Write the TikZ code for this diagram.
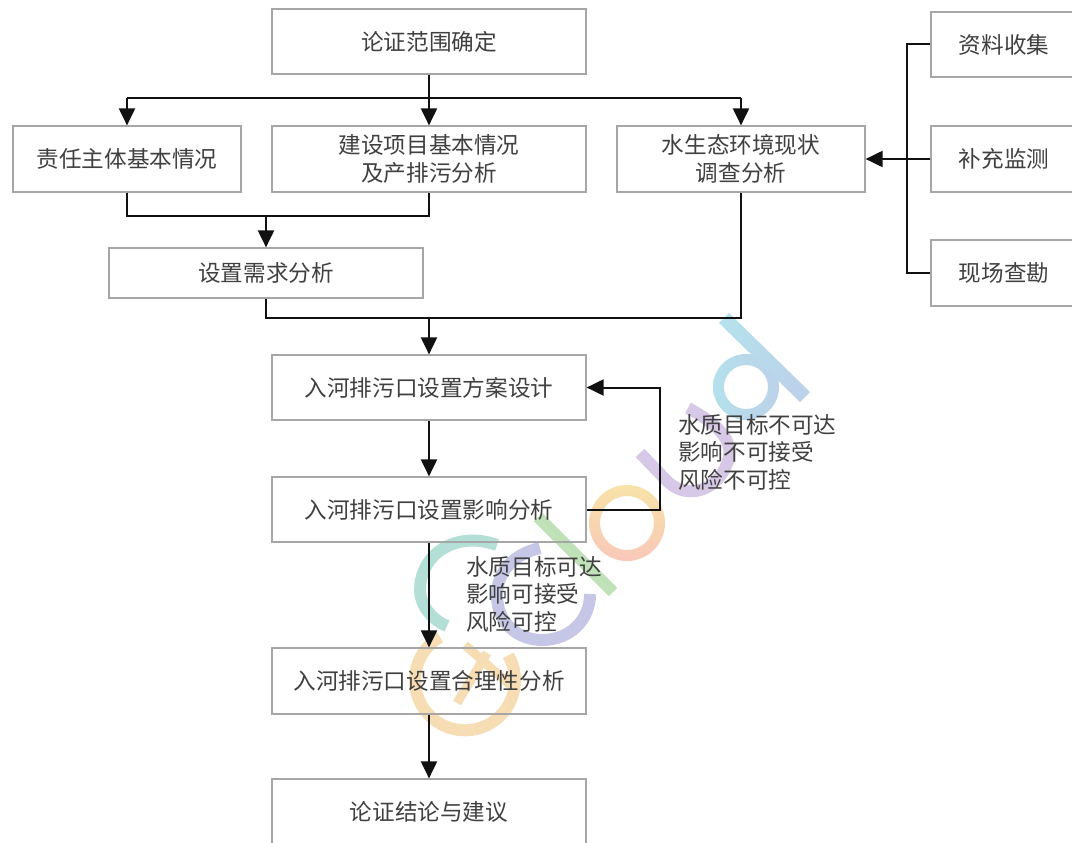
\documentclass[tikz,border=0pt]{standalone}
\usepackage{fontspec}
\setmainfont{Noto Sans CJK SC}
\usetikzlibrary{arrows.meta,positioning,calc}
\definecolor{boxline}{HTML}{A6A6A6}
\definecolor{txt}{HTML}{404040}
\definecolor{conn}{HTML}{111111}
\definecolor{wmcyan}{HTML}{B5E0EC}
\definecolor{wmblue}{HTML}{BCD2EA}
\definecolor{wmpurple}{HTML}{D6C8E6}
\definecolor{wmyellow}{HTML}{F8E3A8}
\definecolor{wmsalmon}{HTML}{F8C8B8}
\definecolor{wmgreen}{HTML}{BFE2B8}
\definecolor{wmteal}{HTML}{B4DFD6}
\definecolor{wmindigo}{HTML}{C6C6E6}
\definecolor{wmorange}{HTML}{F7DDB4}
\tikzset{
  flowbox/.style={draw=boxline,line width=1.2pt,fill=none,inner sep=0pt,anchor=center,align=center,text=txt,
    font=\fontsize{22.6}{28.5}\selectfont},
  lab/.style={inner sep=0pt,anchor=west,align=left,text=txt,font=\fontsize{22.6}{27.5}\selectfont},
  flow/.style={draw=conn,line width=2pt,-{Triangle[length=17pt,width=16pt]}},
  plain/.style={draw=conn,line width=2pt},
  wm/.style={line width=12pt},
}
\begin{document}
\begin{tikzpicture}[x=1pt,y=-1pt]
\useasboundingbox (0,0) rectangle (1072,843);
\fill[white] (0,0) rectangle (1072,843);
% watermark
\shade[even odd rule,left color=wmcyan,right color=wmblue]
  (746,387) circle (33) (746,387) circle (22);
\shade[left color=wmcyan,right color=wmblue,shading angle=45]
  (729,313) -- (810,392) -- (800,402) -- (719,323) -- cycle;
\draw[wm,draw=wmpurple] (640,453) -- (668,482) .. controls (690,502) and (722,488) .. (729,457) .. controls (733,436) and (710,420) .. (688,408);
\shade[even odd rule,top color=wmyellow,bottom color=wmsalmon]
  (627,523) circle (38) (627,523) circle (27);
\draw[line width=12pt,draw=wmgreen] (538,517) -- (613,592);
\draw[wm,draw=wmteal] (497,545) .. controls (455,530) and (420,555) .. (420,590) .. controls (420,605) and (432,620) .. (447,626);
\draw[wm,draw=wmindigo] (540,548) .. controls (510,555) and (497,575) .. (497,595) .. controls (497,625) and (520,640) .. (542,640) .. controls (570,640) and (590,620) .. (590,594);
\draw[wm,draw=wmorange] (440,637) arc[start angle=240,end angle=-30,radius=50];
\draw[line width=9pt,draw=wmorange] (465,645) -- (516,690);
\draw[line width=9pt,draw=wmorange] (487,653) -- (457,703);
% boxes
\node[flowbox,minimum width=314pt,minimum height=65pt] (scope) at (429,41.5) {论证范围确定};
\node[flowbox,minimum width=228pt,minimum height=66pt] (duty) at (127,159) {责任主体基本情况};
\node[flowbox,minimum width=314pt,minimum height=66pt] (proj) at (429,159) {建设项目基本情况\\及产排污分析};
\node[flowbox,minimum width=248pt,minimum height=66pt] (water) at (741,159) {水生态环境现状\\调查分析};
\node[flowbox,minimum width=314pt,minimum height=50pt] (need) at (266,273) {设置需求分析};
\node[flowbox,minimum width=146pt,minimum height=65pt] (collect) at (1004,44.5) {资料收集};
\node[flowbox,minimum width=146pt,minimum height=66pt] (monitor) at (1004,159) {补充监测};
\node[flowbox,minimum width=146pt,minimum height=66pt] (survey) at (1004,273) {现场查勘};
\node[flowbox,minimum width=314pt,minimum height=65pt] (design) at (429,387.5) {入河排污口设置方案设计};
\node[flowbox,minimum width=314pt,minimum height=65pt] (impact) at (429,509.5) {入河排污口设置影响分析};
\node[flowbox,minimum width=314pt,minimum height=66pt] (reason) at (429,681) {入河排污口设置合理性分析};
\node[flowbox,minimum width=314pt,minimum height=65pt] (concl) at (429,811.5) {论证结论与建议};
% labels
\node[lab] (no) at (678,452) {水质目标不可达\\影响不可接受\\风险不可控};
\node[lab] (yes) at (466,594) {水质目标可达\\影响可接受\\风险可控};
% junctions
\coordinate (j1) at (429,98);
\coordinate (j2) at (266,216);
\coordinate (j3) at (429,318);
\coordinate (t) at (907,159);
\coordinate (fb) at (660,0);
% connectors
\draw[plain] (scope.south) -- (j1);
\draw[plain] (duty.north |- j1) -- (water.north |- j1);
\draw[flow] (duty.north |- j1) -- (duty.north);
\draw[flow] (j1) -- (proj.north);
\draw[flow] (water.north |- j1) -- (water.north);
\draw[plain] (duty.south) -- (duty.south |- j2) -- (proj.south |- j2) -- (proj.south);
\draw[flow] (j2) -- (need.north);
\draw[plain] (need.south) -- (need.south |- j3) -- (water.south |- j3) -- (water.south);
\draw[flow] (j3) -- (design.north);
\draw[flow] (design.south) -- (impact.north);
\draw[flow] (impact.south) -- (reason.north);
\draw[flow] (reason.south) -- (concl.north);
\draw[flow] (impact.east) -- (fb |- impact.east) -- (fb |- design.east) -- (design.east);
\draw[plain] (collect.west) -- (t |- collect.west) -- (t |- survey.west) -- (survey.west);
\draw[flow] (monitor.west) -- (water.east);
\end{tikzpicture}
\end{document}
